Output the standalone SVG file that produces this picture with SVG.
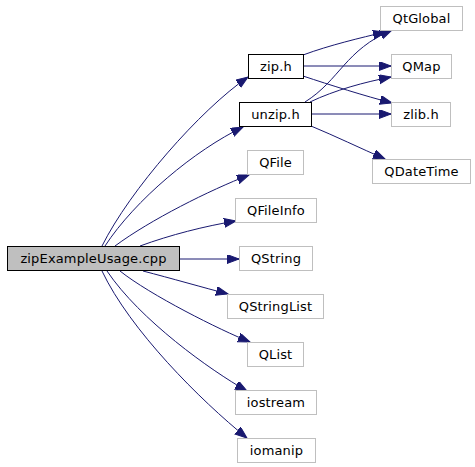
<svg xmlns="http://www.w3.org/2000/svg" width="475" height="467" viewBox="0 0 475 467">
<style>
.n rect{fill:#fff;stroke:#bfbfbf;stroke-width:1}
.n.b rect{stroke:#000}
.n.m rect{fill:#bfbfbf;stroke:#000}
.n text{font-family:"DejaVu Sans",sans-serif;font-size:13px;letter-spacing:0.15px;fill:#000;text-anchor:middle}
.e path{fill:none;stroke:#191970;stroke-width:1;marker-end:url(#ah)}
</style>
<defs>
<marker id="ah" markerUnits="userSpaceOnUse" markerWidth="13" markerHeight="10" refX="12" refY="4.5" orient="auto">
<polygon points="0,0 12,4.5 0,9" fill="#191970" stroke="#191970" stroke-width="1"/>
</marker>
</defs>
<rect width="475" height="467" fill="#fff"/>
<g id="edges" class="e">
<path d="M102,246 C130,190 200,110 248,77"/>
<path d="M105,246 C135,200 195,150 243,127"/>
<path d="M115,246 C150,220 210,190 249,175"/>
<path d="M140,246 C170,235 205,226 236,221"/>
<path d="M180,259 L239,259"/>
<path d="M143,271 C170,278 205,288 228,294"/>
<path d="M120,271 C150,295 220,330 250,342"/>
<path d="M107,271 C140,320 210,370 247,391"/>
<path d="M102,271 C130,330 200,400 247,438"/>
<path d="M303,55 C330,45 360,38 385,32"/>
<path d="M303,66 L391,66"/>
<path d="M303,76 C330,85 365,96 392,103"/>
<path d="M305,102 C340,80 345,50 392,30"/>
<path d="M310,102 C335,90 365,82 391,77"/>
<path d="M311,114 L391,114"/>
<path d="M311,126 C335,136 360,148 385,159"/>
</g>
<g id="main" class="n m"><rect x="7.5" y="246.5" width="172" height="24"/><text x="93.5" y="263">zipExampleUsage.cpp</text></g>
<g id="zip_h" class="n b"><rect x="248.5" y="54.5" width="55" height="24"/><text x="276" y="71">zip.h</text></g>
<g id="unzip_h" class="n b"><rect x="239.5" y="102.5" width="72" height="24"/><text x="275.5" y="119">unzip.h</text></g>
<g id="QtGlobal" class="n"><rect x="380.5" y="6.5" width="82" height="24"/><text x="421.5" y="23">QtGlobal</text></g>
<g id="QMap" class="n"><rect x="391.5" y="54.5" width="60" height="24"/><text x="421.5" y="71">QMap</text></g>
<g id="zlib_h" class="n"><rect x="391.5" y="102.5" width="59" height="24"/><text x="421" y="119">zlib.h</text></g>
<g id="QDateTime" class="n"><rect x="372.5" y="159.5" width="98" height="24"/><text x="421.5" y="176">QDateTime</text></g>
<g id="QFile" class="n"><rect x="247.5" y="150.5" width="56" height="24"/><text x="275.5" y="167">QFile</text></g>
<g id="QFileInfo" class="n"><rect x="235.5" y="198.5" width="81" height="24"/><text x="276" y="215">QFileInfo</text></g>
<g id="QString" class="n"><rect x="239.5" y="246.5" width="73" height="24"/><text x="276" y="263">QString</text></g>
<g id="QStringList" class="n"><rect x="227.5" y="294.5" width="96" height="24"/><text x="275.5" y="311">QStringList</text></g>
<g id="QList" class="n"><rect x="247.5" y="342.5" width="56" height="24"/><text x="275.5" y="359">QList</text></g>
<g id="iostream" class="n"><rect x="235.5" y="390.5" width="81" height="24"/><text x="276" y="407">iostream</text></g>
<g id="iomanip" class="n"><rect x="237.5" y="438.5" width="78" height="24"/><text x="276.5" y="455">iomanip</text></g>
</svg>
